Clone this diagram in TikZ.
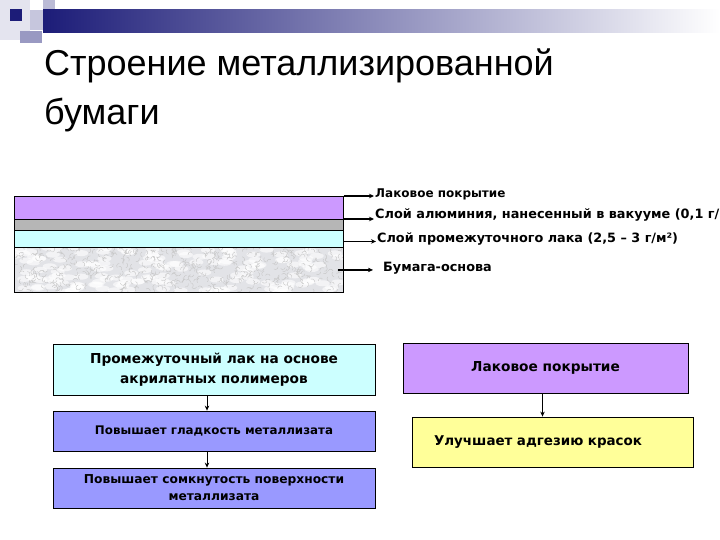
\documentclass[tikz,border=0pt]{standalone}
\usepackage{fontspec}
\setmainfont{DejaVu Sans}
\newfontfamily\titlefont{Liberation Sans}
\usetikzlibrary{arrows.meta,calc}
\definecolor{banner}{RGB}{28,28,120}
\definecolor{lacq}{RGB}{204,153,255}
\definecolor{alu}{RGB}{182,182,182}
\definecolor{interlac}{RGB}{204,255,255}
\definecolor{paperbg}{RGB}{226,227,231}
\definecolor{periw}{RGB}{153,153,255}
\definecolor{lemon}{RGB}{255,255,153}
\tikzset{
  >={Stealth[length=5pt,width=4.5pt]},
  layer/.style={draw=black,fill=#1,line width=0.9pt,anchor=north west,
    inner sep=0pt,minimum width=329pt},
  tag/.style={anchor=west,inner sep=1pt,font=\bfseries\fontsize{#1}{#1}\selectfont},
  ptr/.style={->,line width=1.1pt},
  box/.style={draw=black,fill=#1,line width=0.8pt,align=center,inner sep=0pt,
    font=\bfseries\fontsize{12}{17}\selectfont},
  link/.style={->,line width=1pt},
}

\begin{document}
\begin{tikzpicture}[x=1pt,y=-1pt]
  \useasboundingbox (0,0) rectangle (720,540);
  % header bar
  \fill[banner!12] (0,0) rectangle (30,40);
  \fill[banner!25] (30,10) rectangle (52,30);
  \fill[banner!30] (43,0) rectangle (55,22);
  \shade[left color=banner,middle color=banner!35!gray!70,right color=white] (43,10) rectangle (720,33);
  \fill[banner!45] (20,31) rectangle (42,43);
  \fill[banner] (10,9) rectangle (22,21);
  \node[anchor=north west,inner sep=0pt,align=left,
    font=\titlefont\fontsize{36}{49}\selectfont] (title) at (44,49) {Строение металлизированной\\бумаги};

  % layers of the paper
  \node[layer=lacq,minimum height=23pt] (lac) at (14,196) {};
  \node[layer=alu,minimum height=11pt] (alum) at (14,219) {};
  \node[layer=interlac,minimum height=17pt] (mid) at (14,230) {};
  \node[layer=paperbg,minimum height=45pt] (paper) at (14,247) {};
  \begin{scope}
    \clip (paper.north west) rectangle (paper.south east);
    \pgfmathsetseed{7}
    \foreach \i in {1,...,160}{
      \pgfmathsetmacro\px{14+329*rnd}
      \pgfmathsetmacro\py{247+45*rnd}
      \fill[white,opacity=0.6] (\px,\py) ellipse[x radius=7,y radius=3];
    }
    \foreach \i in {1,...,520}{
      \pgfmathsetmacro\px{14+329*rnd}
      \pgfmathsetmacro\py{247+45*rnd}
      \pgfmathsetmacro\pa{360*rnd}
      \draw[gray!45,line width=0.4pt] (\px,\py) arc[start angle=\pa,delta angle=130,radius=2.6];
    }
  \end{scope}
  \draw[line width=0.9pt] (paper.north west) rectangle (paper.south east);

  \node[tag=12] (t1) at (374,194) {Лаковое покрытие};
  \node[tag=12.85] (t2) at (374,215) {Слой алюминия, нанесенный в вакууме (0,1 г/};
  \node[tag=12.8] (t3) at (376,239) {Слой промежуточного лака (2,5 – 3 г/м²)};
  \node[tag=12.8] (t4) at (382,268) {Бумага-основа};
  \draw[ptr] (lac.north east) -- (lac.north east -| t1.west);
  \draw[ptr] (alum.north east) -- (alum.north east -| t2.west);
  \coordinate (m3) at ($(mid.east)+(0,2.5)$);
  \draw[ptr] (m3) -- (m3 -| t3.west);
  \coordinate (m4) at ($(paper.east)+(-6,0)$);
  \draw[ptr] (m4) -- ([xshift=-9pt]m4 -| t4.west);

  % what the layers do
  \node[box=interlac,minimum width=322pt,minimum height=51pt,
    font=\bfseries\fontsize{13.7}{20}\selectfont] (acryl) at (214,369.5) {Промежуточный лак на основе\\акрилатных полимеров};
  \node[box=periw,minimum width=322pt,minimum height=40pt,
    font=\bfseries\fontsize{11.85}{17}\selectfont] (smooth) at (214,431) {Повышает гладкость металлизата};
  \node[box=periw,minimum width=322pt,minimum height=40pt,
    font=\bfseries\fontsize{12.25}{17}\selectfont] (dense) at (214,488) {Повышает сомкнутость поверхности\\металлизата};
  \node[box=lacq,minimum width=285pt,minimum height=50pt,
    font=\bfseries\fontsize{13.7}{17}\selectfont] (coat) at (545.5,368) {Лаковое покрытие};
  \node[box=lemon,minimum width=281pt,minimum height=50pt,text width=281pt,align=left,
    font=\bfseries\fontsize{13.45}{17}\selectfont] (adh) at (552.5,442) {\hspace*{22pt}Улучшает адгезию красок};
  \draw[link] ([xshift=-7pt]acryl.south) -- ([xshift=-7pt]acryl.south |- smooth.north);
  \draw[link] ([xshift=-7pt]smooth.south) -- ([xshift=-7pt]smooth.south |- dense.north);
  \draw[link] ([xshift=-3pt]coat.south) -- ([xshift=-3pt]coat.south |- adh.north);
\end{tikzpicture}
\end{document}
